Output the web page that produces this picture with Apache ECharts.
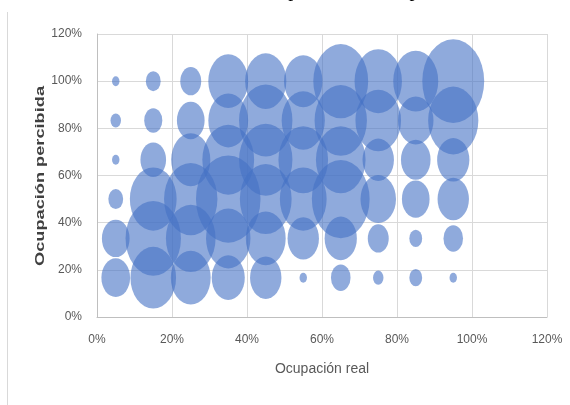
<!DOCTYPE html>
<html>
<head>
<meta charset="utf-8">
<script src="https://cdn.jsdelivr.net/npm/echarts@6/dist/echarts.min.js"></script>
<style>
  html, body { margin: 0; padding: 0; background: #fff; }
  #chart { width: 570px; height: 405px; }
</style>
</head>
<body>
<div id="chart"></div>
<script>
// Real occupancy (x, %) for each column of bubbles
const realOccupancy = [5, 15, 25, 35, 45, 55, 65, 75, 85, 95];
// Perceived occupancy levels (y, %)
const perceivedLevels = [16.67, 33.33, 50, 66.67, 83.33, 100];
// Number of responses per cell: one row per real-occupancy column,
// one entry per perceived level (bottom to top)
const responses = [
  [15, 14, 4, 1, 2, 1],
  [38, 56, 40, 12, 6, 4],
  [29, 45, 52, 28, 14, 8],
  [20, 36, 76, 49, 29, 29],
  [18, 29, 49, 52, 52, 31],
  [1, 18, 40, 45, 34, 27],
  [7, 19, 61, 45, 50, 55],
  [2, 8, 23, 18, 38, 41],
  [3, 3, 14, 16, 23, 37],
  [1, 7, 18, 19, 46, 70]
];
// Axis ticks (%)
const axisMin = 0, axisMax = 120, axisStep = 20;

const points = [];
realOccupancy.forEach((x, i) => {
  perceivedLevels.forEach((y, j) => {
    points.push([x, y, responses[i][j]]);
  });
});

const chart = echarts.init(document.getElementById('chart'), null, { renderer: 'canvas' });

const labelFont = {
  color: '#595959',
  fontSize: 12,
  fontFamily: '"Liberation Sans", Arial, sans-serif'
};

chart.setOption({
  animation: false,
  backgroundColor: '#ffffff',
  grid: { left: 97, right: 23, top: 34, bottom: 88 },
  xAxis: {
    type: 'value',
    min: axisMin, max: axisMax, interval: axisStep,
    axisLine: { show: true, lineStyle: { color: '#BFBFBF', width: 1 } },
    axisTick: { show: false },
    splitLine: { show: true, lineStyle: { color: '#D9D9D9', width: 1 } },
    axisLabel: Object.assign({ formatter: '{value}%', margin: 17 }, labelFont),
    name: 'Ocupación real',
    nameLocation: 'middle',
    nameGap: 45,
    nameTextStyle: {
      color: '#595959',
      fontSize: 14,
      fontFamily: '"Liberation Sans", Arial, sans-serif'
    }
  },
  yAxis: {
    type: 'value',
    min: axisMin, max: axisMax, interval: axisStep,
    axisLine: { show: true, lineStyle: { color: '#BFBFBF', width: 1 } },
    axisTick: { show: false },
    splitLine: { show: true, lineStyle: { color: '#D9D9D9', width: 1 } },
    axisLabel: Object.assign({ formatter: '{value}%', margin: 15 }, labelFont)
  },
  series: [{
    type: 'scatter',
    data: points,
    symbol: 'circle',
    symbolSize: function (v) {
      const h = 10 * Math.sqrt(v[2]);
      return [h * 0.74, h];
    },
    itemStyle: { color: 'rgba(68,114,196,0.75)' },
    emphasis: { disabled: true }
  }],
  graphic: [
    // chart frame edge on the left
    {
      type: 'line',
      shape: { x1: 7.5, y1: 12, x2: 7.5, y2: 405 },
      style: { stroke: '#D9D9D9', lineWidth: 1 }
    },
    // caption line above the chart, clipped by the top edge
    {
      type: 'text',
      x: 255, y: -9.5,
      style: {
        text: 'Ocupación real vs. percibida',
        font: '20px "Liberation Serif", serif',
        fill: '#000000',
        textAlign: 'left',
        textVerticalAlign: 'middle'
      }
    },
    // vertical axis title
    {
      type: 'text',
      x: 40, y: 176,
      rotation: Math.PI / 2,
      scaleX: 1.4,
      style: {
        text: 'Ocupación percibida',
        font: 'bold 13px "Liberation Sans", sans-serif',
        fill: '#404040',
        textAlign: 'center',
        textVerticalAlign: 'middle'
      }
    }
  ]
});
</script>
</body>
</html>
